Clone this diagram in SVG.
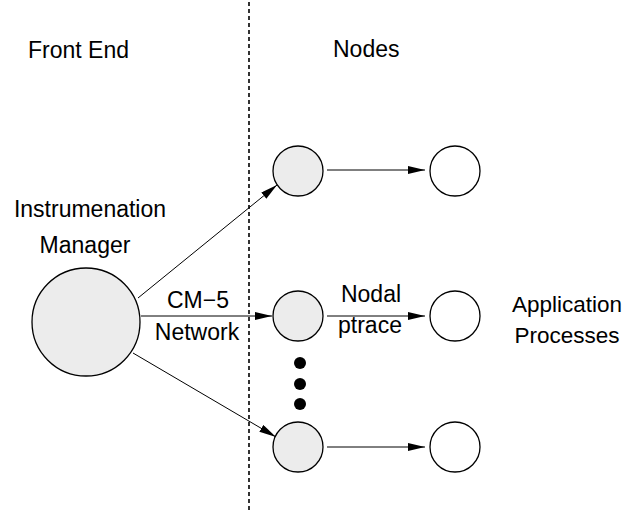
<svg xmlns="http://www.w3.org/2000/svg" width="626" height="514" viewBox="0 0 626 514">
<defs>
<style>
.t{font-family:"Liberation Sans",Arial,sans-serif;font-size:23px;fill:#000}
.s{font-size:22.5px}
.g{fill:#ececec;stroke:#000;stroke-width:1.3}
.w{fill:#fff;stroke:#000;stroke-width:1.3}
.c{stroke:#000;stroke-width:1;fill:none;marker-end:url(#ah)}
</style>
<marker id="ah" viewBox="0 0 17 8" refX="17" refY="4" markerWidth="17" markerHeight="8" markerUnits="userSpaceOnUse" orient="auto">
<path d="M0,0 L17,4 L0,8 Z" fill="#000"/>
</marker>
</defs>
<rect width="626" height="514" fill="#fff"/>
<line x1="249" y1="2" x2="249" y2="510" stroke="#000" stroke-width="1.6" stroke-dasharray="4,3"/>
<text class="t" x="28" y="58">Front End</text>
<text class="t" x="333" y="57">Nodes</text>
<g id="connectors">
<line class="c" x1="138" y1="298" x2="277" y2="185"/>
<line class="c" x1="141" y1="316" x2="272" y2="316"/>
<line class="c" x1="133" y1="353" x2="276" y2="437"/>
<line class="c" x1="327" y1="170" x2="425" y2="170"/>
<line class="c" x1="327" y1="316" x2="425" y2="316"/>
<line class="c" x1="327" y1="447" x2="425" y2="447"/>
<text class="t" x="198" y="308" text-anchor="middle">CM−5</text>
<text class="t" x="197" y="340" text-anchor="middle">Network</text>
<text class="t" x="371" y="302" text-anchor="middle">Nodal</text>
<text class="t" x="370" y="333" text-anchor="middle">ptrace</text>
</g>
<g id="manager">
<circle class="g" cx="86" cy="322" r="54"/>
<text class="t" x="90" y="217" text-anchor="middle">Instrumenation</text>
<text class="t" x="85" y="253" text-anchor="middle">Manager</text>
</g>
<g id="node1"><circle class="g" cx="298" cy="171" r="25"/></g>
<g id="node2"><circle class="g" cx="298" cy="316" r="25"/></g>
<g id="node3"><circle class="g" cx="298" cy="447" r="25"/></g>
<g id="ellipsis">
<circle cx="300" cy="363" r="6" fill="#000"/>
<circle cx="300" cy="384" r="6" fill="#000"/>
<circle cx="300" cy="404" r="6" fill="#000"/>
</g>
<g id="proc1"><circle class="w" cx="455" cy="171" r="25"/></g>
<g id="proc2"><circle class="w" cx="455" cy="316" r="25"/></g>
<g id="proc3"><circle class="w" cx="455" cy="447" r="25"/></g>
<g id="apps">
<text class="t s" x="567" y="312" text-anchor="middle">Application</text>
<text class="t s" x="567" y="343" text-anchor="middle">Processes</text>
</g>
</svg>
